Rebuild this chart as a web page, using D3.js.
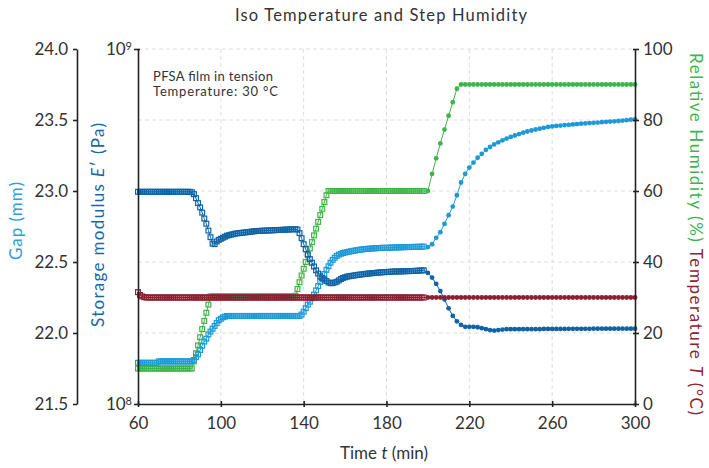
<!DOCTYPE html>
<html>
<head>
<meta charset="utf-8">
<script src="https://cdn.jsdelivr.net/npm/d3@7"></script>
<style>
  body { margin: 0; background: white; }
  svg { font-family: Lato, 'Open Sans', sans-serif; }
  .axis path, .axis line { stroke: #222; stroke-width: 1.6; }
  .axis text { font-size: 17px; fill: #333; font-family: Lato, sans-serif; }
</style>
</head>
<body>
<script>
// sample times (min): dense part every minute, sparse part every 2 min
const timeDense = [
    60, 61, 62, 63, 64, 65, 66, 67, 68, 69,
    70, 71, 72, 73, 74, 75, 76, 77, 78, 79,
    80, 81, 82, 83, 84, 85, 86, 87, 88, 89,
    90, 91, 92, 93, 94, 95, 96, 97, 98, 99,
    100, 101, 102, 103, 104, 105, 106, 107, 108, 109,
    110, 111, 112, 113, 114, 115, 116, 117, 118, 119,
    120, 121, 122, 123, 124, 125, 126, 127, 128, 129,
    130, 131, 132, 133, 134, 135, 136, 137, 138, 139,
    140, 141, 142, 143, 144, 145, 146, 147, 148, 149,
    150, 151, 152, 153, 154, 155, 156, 157, 158, 159,
    160, 161, 162, 163, 164, 165, 166, 167, 168, 169,
    170, 171, 172, 173, 174, 175, 176, 177, 178, 179,
    180, 181, 182, 183, 184, 185, 186, 187, 188, 189,
    190, 191, 192, 193, 194, 195, 196, 197, 198
]
const timeSparse = [
    200, 202, 204, 206, 208, 210, 212, 214, 216, 218,
    220, 222, 224, 226, 228, 230, 232, 234, 236, 238,
    240, 242, 244, 246, 248, 250, 252, 254, 256, 258,
    260, 262, 264, 266, 268, 270, 272, 274, 276, 278,
    280, 282, 284, 286, 288, 290, 292, 294, 296, 298, 300
]

// gap (mm)
const gapDense = [
    21.79, 21.79, 21.79, 21.79, 21.79, 21.79, 21.79, 21.79, 21.79, 21.79,
    21.80, 21.80, 21.80, 21.80, 21.80, 21.80, 21.80, 21.80, 21.80, 21.80,
    21.80, 21.80, 21.80, 21.80, 21.80, 21.80, 21.80, 21.81, 21.83, 21.85,
    21.88, 21.91, 21.94, 21.96, 21.99, 22.01, 22.03, 22.05, 22.07, 22.09,
    22.10, 22.11, 22.115, 22.12, 22.12, 22.12, 22.12, 22.12, 22.12, 22.12,
    22.12, 22.12, 22.12, 22.12, 22.12, 22.12, 22.12, 22.12, 22.12, 22.12,
    22.12, 22.12, 22.12, 22.12, 22.12, 22.12, 22.12, 22.12, 22.12, 22.12,
    22.12, 22.12, 22.12, 22.12, 22.12, 22.12, 22.12, 22.12, 22.12, 22.13,
    22.15, 22.175, 22.20, 22.22, 22.245, 22.27, 22.30, 22.33, 22.36, 22.385,
    22.415, 22.445, 22.47, 22.495, 22.515, 22.53, 22.543, 22.552, 22.558, 22.563,
    22.567, 22.57, 22.573, 22.576, 22.579, 22.581, 22.584, 22.586, 22.588, 22.59,
    22.592, 22.593, 22.594, 22.595, 22.596, 22.597, 22.598, 22.599, 22.6, 22.6,
    22.6, 22.601, 22.601, 22.602, 22.602, 22.603, 22.603, 22.604, 22.604, 22.605,
    22.605, 22.605, 22.606, 22.606, 22.607, 22.607, 22.607, 22.608, 22.608
]
const gapSparse = [
    22.605, 22.625, 22.67, 22.71, 22.768, 22.83, 22.89, 22.97, 23.06, 23.12,
    23.165, 23.20, 23.234, 23.262, 23.29, 23.31, 23.328, 23.343, 23.357, 23.369,
    23.381, 23.391, 23.401, 23.411, 23.419, 23.426, 23.433, 23.439, 23.445, 23.451,
    23.455, 23.458, 23.461, 23.464, 23.466, 23.469, 23.471, 23.474, 23.476, 23.478,
    23.48, 23.482, 23.485, 23.487, 23.489, 23.491, 23.493, 23.496, 23.499, 23.502, 23.505
]

// storage modulus E' (Pa)
const modulusDense = [
    3.96e8, 3.96e8, 3.96e8, 3.96e8, 3.96e8, 3.96e8, 3.96e8, 3.96e8, 3.96e8, 3.96e8,
    3.96e8, 3.96e8, 3.96e8, 3.96e8, 3.96e8, 3.96e8, 3.96e8, 3.96e8, 3.96e8, 3.96e8,
    3.96e8, 3.96e8, 3.96e8, 3.96e8, 3.96e8, 3.96e8, 3.95e8, 3.90e8, 3.80e8, 3.68e8,
    3.58e8, 3.46e8, 3.33e8, 3.22e8, 3.08e8, 2.95e8, 2.83e8, 2.82e8, 2.87e8, 2.90e8,
    2.92e8, 2.94e8, 2.96e8, 2.98e8, 2.99e8, 3.00e8, 3.01e8, 3.02e8, 3.025e8, 3.03e8,
    3.035e8, 3.04e8, 3.045e8, 3.05e8, 3.055e8, 3.06e8, 3.065e8, 3.07e8, 3.072e8, 3.074e8,
    3.076e8, 3.078e8, 3.08e8, 3.082e8, 3.084e8, 3.086e8, 3.088e8, 3.09e8, 3.092e8, 3.094e8,
    3.096e8, 3.098e8, 3.10e8, 3.102e8, 3.104e8, 3.106e8, 3.108e8, 3.10e8, 3.03e8, 2.93e8,
    2.82e8, 2.73e8, 2.64e8, 2.56e8, 2.50e8, 2.44e8, 2.38e8, 2.33e8, 2.29e8, 2.26e8,
    2.24e8, 2.22e8, 2.20e8, 2.19e8, 2.19e8, 2.20e8, 2.21e8, 2.23e8, 2.25e8, 2.265e8,
    2.275e8, 2.285e8, 2.29e8, 2.295e8, 2.30e8, 2.305e8, 2.31e8, 2.314e8, 2.318e8, 2.322e8,
    2.326e8, 2.33e8, 2.333e8, 2.336e8, 2.339e8, 2.342e8, 2.345e8, 2.348e8, 2.35e8, 2.352e8,
    2.354e8, 2.356e8, 2.358e8, 2.36e8, 2.361e8, 2.362e8, 2.363e8, 2.364e8, 2.365e8, 2.366e8,
    2.367e8, 2.368e8, 2.369e8, 2.37e8, 2.372e8, 2.374e8, 2.376e8, 2.378e8, 2.38e8
]
const modulusSparse = [
    2.34e8, 2.27e8, 2.18e8, 2.08e8, 1.97e8, 1.86e8, 1.77e8, 1.71e8, 1.67e8, 1.65e8,
    1.65e8, 1.65e8, 1.645e8, 1.635e8, 1.625e8, 1.615e8, 1.61e8, 1.615e8, 1.62e8, 1.625e8,
    1.625e8, 1.625e8, 1.625e8, 1.625e8, 1.625e8, 1.625e8, 1.625e8, 1.625e8, 1.627e8, 1.627e8,
    1.627e8, 1.627e8, 1.627e8, 1.627e8, 1.628e8, 1.628e8, 1.628e8, 1.628e8, 1.628e8, 1.628e8,
    1.63e8, 1.63e8, 1.63e8, 1.63e8, 1.63e8, 1.63e8, 1.63e8, 1.63e8, 1.63e8, 1.63e8, 1.63e8
]

// relative humidity (%)
const humidityDense = [
    10, 10, 10, 10, 10, 10, 10, 10, 10, 10,
    10, 10, 10, 10, 10, 10, 10, 10, 10, 10,
    10, 10, 10, 10, 10, 10, 10, 12, 14.3, 16.5,
    18.8, 21.1, 23.4, 25.7, 28, 30.3, 30.3, 30.3, 30.3, 30.3,
    30.3, 30.3, 30.3, 30.3, 30.3, 30.3, 30.3, 30.3, 30.3, 30.3,
    30.3, 30.3, 30.3, 30.3, 30.3, 30.3, 30.3, 30.3, 30.3, 30.3,
    30.3, 30.3, 30.3, 30.3, 30.3, 30.3, 30.3, 30.3, 30.3, 30.3,
    30.3, 30.3, 30.3, 30.3, 30.3, 30.3, 30.5, 32.4, 34.3, 36.2,
    38.1, 40, 41.9, 43.8, 45.6, 47.5, 49.4, 51.3, 53.2, 55,
    56.9, 58.8, 60, 60, 60, 60, 60, 60, 60, 60,
    60, 60, 60, 60, 60, 60, 60, 60, 60, 60,
    60, 60, 60, 60, 60, 60, 60, 60, 60, 60,
    60, 60, 60, 60, 60, 60, 60, 60, 60, 60,
    60, 60, 60, 60, 60, 60, 60, 60, 60
]
const humiditySparse = [
    60, 64.8, 69.2, 73.4, 77.3, 81.2, 85, 88.8, 90, 90,
    90, 90, 90, 90, 90, 90, 90, 90, 90, 90,
    90, 90, 90, 90, 90, 90, 90, 90, 90, 90,
    90, 90, 90, 90, 90, 90, 90, 90, 90, 90,
    90, 90, 90, 90, 90, 90, 90, 90, 90, 90, 90
]

// temperature T (°C)
const temperatureDense = [
    31.5, 30.7, 30.3, 30.1, 30, 30, 30, 30, 30, 30,
    30, 30, 30, 30, 30, 30, 30, 30, 30, 30,
    30, 30, 30, 30, 30, 30, 30, 30, 30, 30,
    30, 30, 30, 30, 30, 30, 30, 30, 30, 30,
    30, 30, 30, 30, 30, 30, 30, 30, 30, 30,
    30, 30, 30, 30, 30, 30, 30, 30, 30, 30,
    30, 30, 30, 30, 30, 30, 30, 30, 30, 30,
    30, 30, 30, 30, 30, 30, 30, 30, 30, 30,
    30, 30, 30, 30, 30, 30, 30, 30, 30, 30,
    30, 30, 30, 30, 30, 30, 30, 30, 30, 30,
    30, 30, 30, 30, 30, 30, 30, 30, 30, 30,
    30, 30, 30, 30, 30, 30, 30, 30, 30, 30,
    30, 30, 30, 30, 30, 30, 30, 30, 30, 30,
    30, 30, 30, 30, 30, 30, 30, 30, 30
]
const temperatureSparse = [
    30, 30, 30, 30, 30, 30, 30, 30, 30, 30,
    30, 30, 30, 30, 30, 30, 30, 30, 30, 30,
    30, 30, 30, 30, 30, 30, 30, 30, 30, 30,
    30, 30, 30, 30, 30, 30, 30, 30, 30, 30,
    30, 30, 30, 30, 30, 30, 30, 30, 30, 30, 30
]

const timeTicks = [60, 100, 140, 180, 220, 260, 300]
const gapTicks = [21.5, 22.0, 22.5, 23.0, 23.5, 24.0]
const modulusTicks = [1e8, 1e9]
const percentTicks = [0, 20, 40, 60, 80, 100]

const W = 709, H = 468
const plotLeft = 138, plotRight = 635, plotTop = 49, plotBottom = 404

const svg = d3.select('body').append('svg')
    .attr('width', W)
    .attr('height', H)

const x = d3.scaleLinear().domain([60, 300]).range([plotLeft, plotRight])
const yGap = d3.scaleLinear().domain([21.5, 24]).range([plotBottom, plotTop])
const yMod = d3.scaleLog().domain([1e8, 1e9]).range([plotBottom, plotTop])
const yPct = d3.scaleLinear().domain([0, 100]).range([plotBottom, plotTop])

// grid
const grid = svg.append('g')
    .attr('stroke', '#dedede')
    .attr('stroke-dasharray', '4,3')
grid.selectAll('.hgrid')
    .data(percentTicks.filter(d => d > 0))
    .enter().append('line')
    .attr('x1', plotLeft).attr('x2', plotRight)
    .attr('y1', d => yPct(d)).attr('y2', d => yPct(d))
grid.selectAll('.vgrid')
    .data(timeTicks.filter(d => d > 60 && d < 300))
    .enter().append('line')
    .attr('x1', d => x(d)).attr('x2', d => x(d))
    .attr('y1', plotTop).attr('y2', plotBottom)

// series
const series = [
    { name: 'humidity', color: '#3db54a', y: yPct, dense: humidityDense, sparse: humiditySparse },
    { name: 'gap', color: '#1d9ad6', y: yGap, dense: gapDense, sparse: gapSparse },
    { name: 'modulus', color: '#0f63a5', y: yMod, dense: modulusDense, sparse: modulusSparse },
    { name: 'temperature', color: '#8e1f30', y: yPct, dense: temperatureDense, sparse: temperatureSparse }
]

series.forEach(s => {
    const dense = timeDense.map((t, i) => [t, s.dense[i]])
    const sparse = timeSparse.map((t, i) => [t, s.sparse[i]])
    const g = svg.append('g').attr('class', s.name)

    const line = d3.line()
        .x(d => x(d[0]))
        .y(d => s.y(d[1]))

    g.append('path')
        .datum(dense.concat(sparse))
        .attr('d', line)
        .attr('fill', 'none')
        .attr('stroke', s.color)
        .attr('stroke-width', 1)

    g.selectAll('.sq')
        .data(dense)
        .enter().append('rect')
        .attr('x', d => x(d[0]) - 2.4)
        .attr('y', d => s.y(d[1]) - 2.4)
        .attr('width', 4.8)
        .attr('height', 4.8)
        .attr('fill', 'none')
        .attr('stroke', s.color)
        .attr('stroke-width', 1.2)

    g.selectAll('.dot')
        .data(sparse)
        .enter().append('circle')
        .attr('cx', d => x(d[0]))
        .attr('cy', d => s.y(d[1]))
        .attr('r', 2.4)
        .attr('fill', s.color)
})

// axes
const xAxis = svg.append('g')
    .attr('class', 'axis')
    .attr('transform', `translate(0, ${plotBottom})`)
    .call(d3.axisBottom(x).tickValues(timeTicks).tickSize(3).tickSizeOuter(0).tickPadding(10))
xAxis.selectAll('.tick line').attr('y1', -3)

svg.append('g')
    .attr('class', 'axis')
    .attr('transform', 'translate(77, 0)')
    .call(d3.axisLeft(yGap).tickValues(gapTicks).tickFormat(d3.format('.1f'))
        .tickSize(4).tickSizeOuter(0).tickPadding(5))

const modAxis = svg.append('g')
    .attr('class', 'axis')
    .attr('transform', `translate(${plotLeft}, 0)`)
    .call(d3.axisLeft(yMod).tickValues(modulusTicks).tickFormat(() => '')
        .tickSize(4).tickSizeOuter(0).tickPadding(2))
modAxis.selectAll('.tick line').attr('x1', 2)
modAxis.selectAll('.tick text')
    .each(function (d) {
        const t = d3.select(this)
        t.text('10')
        t.append('tspan')
            .attr('dy', '-0.45em')
            .style('font-size', '11px')
            .text(Math.round(Math.log10(d)))
    })

const pctAxis = svg.append('g')
    .attr('class', 'axis')
    .attr('transform', `translate(${plotRight}, 0)`)
    .call(d3.axisRight(yPct).tickValues(percentTicks).tickSize(4).tickSizeOuter(0).tickPadding(4))
pctAxis.selectAll('.tick line').attr('x1', -2)

// titles
svg.append('text')
    .attr('x', 381)
    .attr('y', 21)
    .attr('text-anchor', 'middle')
    .attr('textLength', 292)
    .style('font-size', '16.5px')
    .style('fill', '#333')
    .text('Iso Temperature and Step Humidity')

const xTitle = svg.append('text')
    .attr('x', 384)
    .attr('y', 459)
    .attr('text-anchor', 'middle')
    .style('font-size', '17px')
    .style('fill', '#333')
xTitle.append('tspan').text('Time ')
xTitle.append('tspan').style('font-style', 'italic').text('t')
xTitle.append('tspan').text(' (min)')

svg.append('text')
    .attr('transform', 'translate(16, 221) rotate(-90)')
    .attr('text-anchor', 'middle')
    .attr('dy', '0.35em')
    .attr('textLength', 78)
    .style('font-size', '17px')
    .style('fill', '#2a9fd8')
    .text('Gap (mm)')

const modTitle = svg.append('text')
    .attr('transform', 'translate(98, 225) rotate(-90)')
    .attr('text-anchor', 'middle')
    .attr('dy', '0.35em')
    .attr('textLength', 204)
    .style('font-size', '17px')
    .style('fill', '#1868a8')
modTitle.append('tspan').text('Storage modulus ')
modTitle.append('tspan').style('font-style', 'italic').text('E')
modTitle.append('tspan').text('\u2032 (Pa)')

const rTitle = svg.append('text')
    .attr('transform', 'translate(696, 234) rotate(90)')
    .attr('text-anchor', 'middle')
    .attr('dy', '0.35em')
    .attr('textLength', 362)
    .style('font-size', '17px')
rTitle.append('tspan').style('fill', '#3db54a').text('Relative Humidity (%)  ')
rTitle.append('tspan').style('fill', '#92222f').text('Temperature ')
rTitle.append('tspan').style('fill', '#92222f').style('font-style', 'italic').text('T')
rTitle.append('tspan').style('fill', '#92222f').text(' (\u00b0C)')

// annotation
const note = svg.append('text')
    .style('font-size', '13px')
    .style('fill', '#333')
note.append('tspan').attr('x', 153).attr('y', 81).attr('textLength', 120).text('PFSA film in tension')
note.append('tspan').attr('x', 153).attr('y', 96).attr('textLength', 125).text('Temperature: 30 \u00b0C')
</script>
</body>
</html>
